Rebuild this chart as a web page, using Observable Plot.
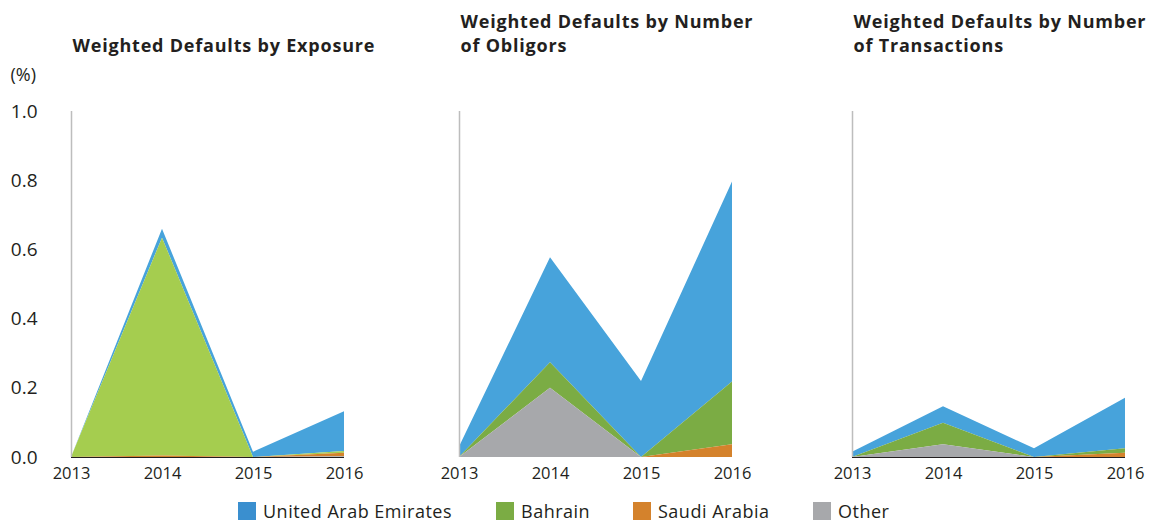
<!DOCTYPE html>
<html>
<head>
<meta charset="utf-8">
<script src="https://cdn.jsdelivr.net/npm/d3@7"></script>
<script src="https://cdn.jsdelivr.net/npm/@observablehq/plot@0.6"></script>
<style>
  html, body { margin: 0; padding: 0; background: #fff; }
  #wrap { position: relative; width: 1151px; height: 523px; font-family: "Open Sans", sans-serif; color: #231f20; }
  .panel { position: absolute; top: 0; }
  .panel svg { overflow: visible; }
  .panel [aria-label^="y-axis"] text { font-size: 19px; }
  .panel [aria-label^="x-axis"] text { font-size: 16.5px; }
  .panel [font-weight="bold"], .panel [font-weight="bold"] text { letter-spacing: 0.8px; }
  .legend-item { position: absolute; top: 502px; display: flex; align-items: center; font-size: 18px; letter-spacing: 0.5px; line-height: 18px; color: #231f20; white-space: nowrap; }
  .legend-item .sw { width: 18px; height: 18px; margin-right: 7px; }
</style>
</head>
<body>
<div id="wrap"></div>
<script>
// ---- data ----
const years = [2013, 2014, 2015, 2016];
const series = ["United Arab Emirates", "Bahrain", "Saudi Arabia", "Other"];
const panelTitles = ["Weighted Defaults by Exposure", "Weighted Defaults by Number\nof Obligors", "Weighted Defaults by Number\nof Transactions"];
const yTicks = [0, 0.2, 0.4, 0.6, 0.8, 1.0];
const unitLabel = "(%)";

// values per panel, per series (order as in `series`), per year
const exposureUAE = [0, 0.026, 0.015, 0.115];
const exposureBahrain = [0, 0.63, 0, 0.005];
const exposureSaudi = [0, 0.004, 0, 0.01];
const exposureOther = [0, 0, 0, 0.002];

const obligorsUAE = [0.03, 0.303, 0.22, 0.578];
const obligorsBahrain = [0, 0.074, 0, 0.181];
const obligorsSaudi = [0, 0, 0, 0.037];
const obligorsOther = [0, 0.20, 0, 0];

const transactionsUAE = [0.015, 0.048, 0.025, 0.146];
const transactionsBahrain = [0, 0.062, 0, 0.013];
const transactionsSaudi = [0, 0, 0, 0.012];
const transactionsOther = [0, 0.037, 0, 0];

// ---- styles ----
const areaColors = {"United Arab Emirates": "#47a3db", "Bahrain": "#7bac44", "Saudi Arabia": "#d4822c", "Other": "#a7a8ab"};
const legendColors = {"United Arab Emirates": "#3a8fcf", "Bahrain": "#7bac44", "Saudi Arabia": "#d4822c", "Other": "#a7a8ab"};
const panelBahrainColor = ["#a5cd4f", "#7bac44", "#7bac44"];
const panelBaseline = [true, false, true];

const panelValues = [
  [exposureUAE, exposureBahrain, exposureSaudi, exposureOther],
  [obligorsUAE, obligorsBahrain, obligorsSaudi, obligorsOther],
  [transactionsUAE, transactionsBahrain, transactionsSaudi, transactionsOther]
];

const panelLayout = [
  {left: 0, width: 388},
  {left: 388, width: 393},
  {left: 781, width: 370}
];

const stackOrder = ["Other", "Saudi Arabia", "Bahrain", "United Arab Emirates"];
const wrap = document.getElementById("wrap");

panelValues.forEach((vals, p) => {
  const rows = [];
  series.forEach((s, si) => years.forEach((yr, yi) => rows.push({year: yr, series: s, value: vals[si][yi],
    color: s === "Bahrain" ? panelBahrainColor[p] : areaColors[s]})));

  const marks = [
    Plot.areaY(rows, Plot.stackY({x: "year", y: "value", z: "series", fill: "color", order: stackOrder})),
    Plot.ruleX([2013], {stroke: "#bdbdbd", strokeWidth: 1.5}),
    Plot.text([panelTitles[p]], {text: d => d, frameAnchor: "top-left", textAnchor: "start", lineAnchor: "bottom",
      dx: 1, dy: -60, fontSize: 18, fontWeight: "bold", lineHeight: 1.33, fill: "#231f20"})
  ];
  if (panelBaseline[p]) marks.push(Plot.ruleY([0], {stroke: "#231f20", strokeWidth: 1}));
  if (p === 0) {
    marks.push(Plot.text([unitLabel], {text: d => d, frameAnchor: "top-left", textAnchor: "start", lineAnchor: "middle",
      dx: -61, dy: -36, fontSize: 18, fill: "#231f20"}));
  }

  const chart = Plot.plot({
    width: panelLayout[p].width,
    height: 490,
    marginTop: 111,
    marginBottom: 33,
    marginLeft: 71,
    marginRight: panelLayout[p].width - 71 - 273,
    style: {fontFamily: "'Open Sans', sans-serif", fontSize: "16px", color: "#231f20", background: "transparent"},
    x: {domain: [2013, 2016], ticks: years, tickFormat: "d", tickSize: 0, tickPadding: 10, label: null},
    y: p === 0
      ? {domain: [0, 1], ticks: yTicks, tickFormat: ".1f", tickSize: 0, tickPadding: 34, label: null}
      : {domain: [0, 1], axis: null},
    color: {type: "identity"},
    marks
  });
  const div = document.createElement("div");
  div.className = "panel";
  div.style.left = panelLayout[p].left + "px";
  div.appendChild(chart);
  wrap.appendChild(div);
});

// legend
const legendLeft = [238, 496, 633, 813];
series.forEach((s, i) => {
  const item = document.createElement("div");
  item.className = "legend-item";
  item.style.left = legendLeft[i] + "px";
  const sw = document.createElement("span");
  sw.className = "sw";
  sw.style.background = legendColors[s];
  const label = document.createElement("span");
  label.textContent = s;
  item.appendChild(sw);
  item.appendChild(label);
  wrap.appendChild(item);
});
</script>
</body>
</html>
